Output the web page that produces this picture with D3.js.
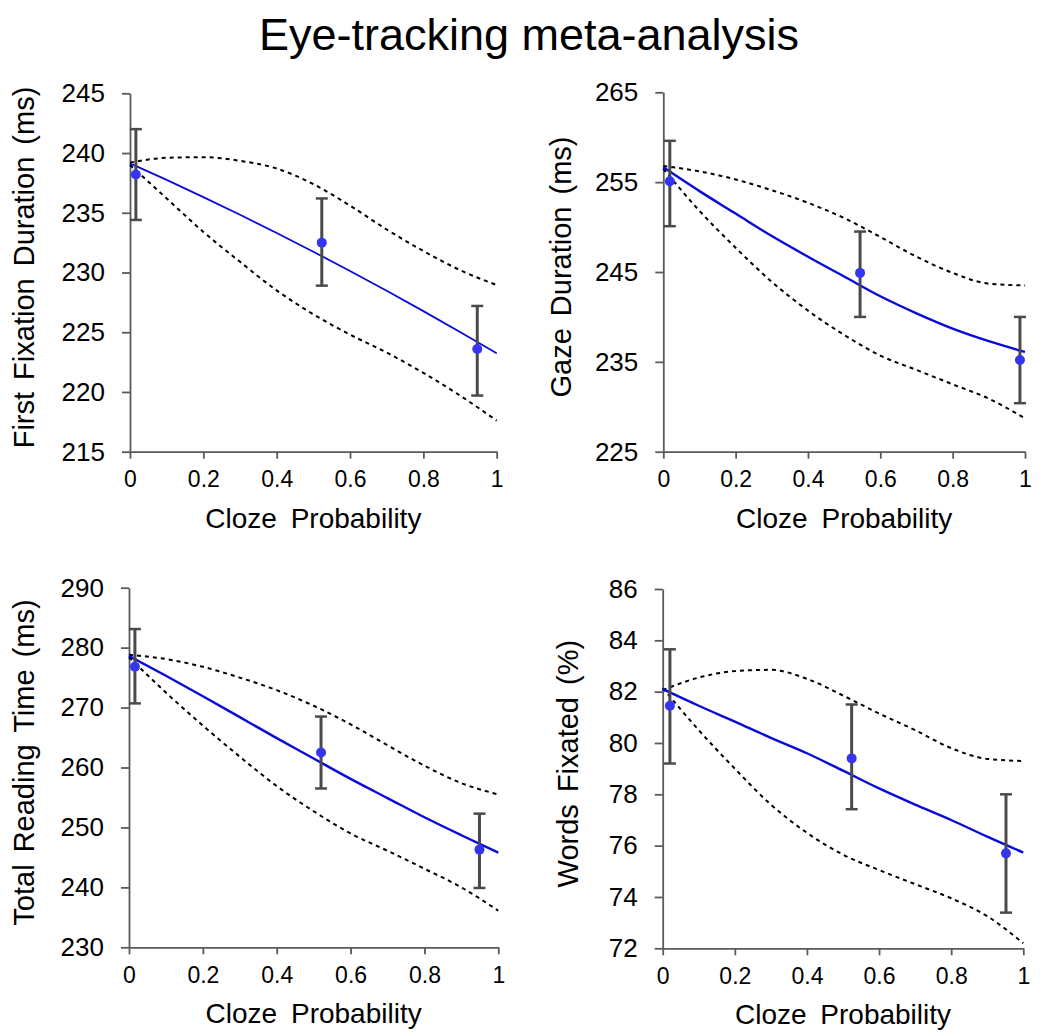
<!DOCTYPE html>
<html>
<head>
<meta charset="utf-8">
<script src="https://cdn.jsdelivr.net/npm/d3@7"></script>
<style>
  html, body { margin: 0; padding: 0; background: #fff; }
  svg { display: block; font-family: Arial, "Liberation Sans", sans-serif; }
</style>
</head>
<body>
<svg id="chart" width="1050" height="1036"></svg>
<script>
// ---------------- DATA ----------------
const chartTitle = "Eye-tracking meta-analysis";
const xAxisTitle = "Cloze Probability";
const yAxisTitles = ["First Fixation Duration (ms)", "Gaze Duration (ms)", "Total Reading Time (ms)", "Words Fixated (%)"];
const xTicks = [0, 0.2, 0.4, 0.6, 0.8, 1];
const yTicks = [
  [215, 220, 225, 230, 235, 240, 245],
  [225, 235, 245, 255, 265],
  [230, 240, 250, 260, 270, 280, 290],
  [72, 74, 76, 78, 80, 82, 84, 86]
];
// observed means with error bars
const pointCloze = [
  [0.016, 0.523, 0.947],
  [0.018, 0.544, 0.986],
  [0.016, 0.520, 0.949],
  [0.020, 0.524, 0.952]
];
const pointMean = [
  [238.2, 232.5, 223.6],
  [255.1, 244.9, 235.2],
  [276.8, 262.5, 246.3],
  [81.45, 79.4, 75.7]
];
const errHigh = [
  [242.0, 236.2, 227.2],
  [259.6, 249.5, 240.0],
  [283.1, 268.5, 252.3],
  [83.65, 81.5, 78.0]
];
const errLow = [
  [234.4, 228.9, 219.7],
  [250.1, 240.0, 230.4],
  [270.7, 256.5, 239.9],
  [79.2, 77.42, 73.39]
];
// fitted model curve and its interval, sampled along cloze probability
const curveCloze = [0, 0.1, 0.2, 0.3, 0.4, 0.5, 0.6, 0.7, 0.8, 0.9, 1];
const fitCurve = [
  [239.14, 237.75, 236.31, 234.83, 233.31, 231.74, 230.12, 228.47, 226.77, 225.02, 223.23],
  [256.65, 254.0, 251.5, 249.0, 246.7, 244.5, 242.3, 240.4, 238.7, 237.3, 236.1],
  [278.6, 275.3, 271.9, 268.4, 264.9, 261.5, 258.1, 254.9, 251.7, 248.7, 245.8],
  [82.1, 81.45, 80.83, 80.2, 79.6, 78.92, 78.23, 77.6, 77.0, 76.35, 75.73]
];
const upperCurve = [
  [239.2, 239.6, 239.65, 239.35, 238.7, 237.4, 235.6, 233.6, 231.8, 230.2, 228.95],
  [256.8, 256.2, 255.3, 254.1, 252.7, 251.0, 248.9, 246.7, 244.9, 243.7, 243.5],
  [278.8, 278.1, 276.8, 275.0, 272.9, 270.3, 267.2, 263.7, 260.3, 257.4, 255.5],
  [82.06, 82.55, 82.8, 82.85, 82.5, 81.85, 81.15, 80.5, 79.8, 79.38, 79.3]
];
const lowerCurve = [
  [239.0, 236.2, 233.4, 230.9, 228.5, 226.5, 224.8, 223.3, 221.6, 219.7, 217.6],
  [256.5, 251.8, 247.7, 243.9, 240.7, 238.0, 235.7, 234.1, 232.5, 230.9, 228.7],
  [278.4, 272.5, 267.0, 261.8, 256.9, 252.7, 249.0, 246.1, 243.1, 240.0, 236.1],
  [82.14, 80.5, 79.0, 77.6, 76.5, 75.65, 75.05, 74.5, 73.95, 73.25, 72.2]
];

// ---------------- LAYOUT ----------------
const panels = [
  { x0: 130,   x1: 496.7,  yTop: 93.3,  yBot: 451.7, titleX: 24 },
  { x0: 663.3, x1: 1025,   yTop: 92.3,  yBot: 451.7, titleX: 561 },
  { x0: 129,   x1: 498.3,  yTop: 587.7, yBot: 947.3, titleX: 24 },
  { x0: 662.7, x1: 1023.3, yTop: 589,   yBot: 948.3, titleX: 568 }
];

const svg = d3.select("#chart");
const axisColor = "#5a5a5a";

svg.append("text")
  .attr("x", 529).attr("y", 50)
  .attr("text-anchor", "middle")
  .attr("font-size", 45)
  .attr("fill", "#000")
  .text(chartTitle);

panels.forEach((p, i) => {
  const yExt = d3.extent(yTicks[i]);
  const x = d3.scaleLinear().domain([0, 1]).range([p.x0, p.x1]);
  const y = d3.scaleLinear().domain(yExt).range([p.yBot, p.yTop]);
  const g = svg.append("g");

  // y axis
  const ya = g.append("g")
    .attr("transform", `translate(${p.x0},0)`)
    .call(d3.axisLeft(y).tickValues(yTicks[i]).tickSize(8).tickSizeOuter(0).tickPadding(17).tickFormat(d3.format("")));
  // x axis
  const xa = g.append("g")
    .attr("transform", `translate(0,${p.yBot})`)
    .call(d3.axisBottom(x).tickValues(xTicks).tickSize(7).tickSizeOuter(0).tickPadding(12).tickFormat(d => String(d)));
  [ya, xa].forEach(a => {
    a.select(".domain").attr("stroke", axisColor).attr("stroke-width", 1.8);
    a.selectAll(".tick line").attr("stroke", axisColor).attr("stroke-width", 1.8);
    a.selectAll(".tick text").attr("fill", "#000")
      .attr("font-family", "Arial, 'Liberation Sans', sans-serif");
  });
  ya.selectAll(".tick text").attr("font-size", 26);
  xa.selectAll(".tick text").attr("font-size", 23);

  // axis titles
  g.append("text")
    .attr("transform", `translate(${p.titleX + 10},${(p.yTop + p.yBot) / 2 - 5}) rotate(-90)`)
    .attr("text-anchor", "middle")
    .attr("font-size", 29)
    .attr("word-spacing", 4)
    .attr("fill", "#000")
    .text(yAxisTitles[i]);
  g.append("text")
    .attr("x", (p.x0 + p.x1) / 2).attr("y", p.yBot + 76)
    .attr("text-anchor", "middle")
    .attr("font-size", 28)
    .attr("word-spacing", 6)
    .attr("fill", "#000")
    .text(xAxisTitle);

  const line = d3.line()
    .x((d, k) => x(curveCloze[k]))
    .y(d => y(d))
    .curve(d3.curveMonotoneX);

  // interval curves (dotted)
  [upperCurve[i], lowerCurve[i]].forEach(c => {
    g.append("path")
      .attr("d", line(c))
      .attr("fill", "none")
      .attr("stroke", "#000")
      .attr("stroke-width", 2)
      .attr("stroke-dasharray", "4,4");
  });

  // fit line
  g.append("path")
    .attr("d", line(fitCurve[i]))
    .attr("fill", "none")
    .attr("stroke", "#0a0ad8")
    .attr("stroke-width", i === 0 ? 1.8 : 2.4);

  // error bars
  const eb = g.selectAll(".eb").data(pointCloze[i]).enter().append("g");
  eb.append("line")
    .attr("x1", d => x(d)).attr("x2", d => x(d))
    .attr("y1", (d, k) => y(errHigh[i][k])).attr("y2", (d, k) => y(errLow[i][k]))
    .attr("stroke", "#4a4a4a").attr("stroke-width", 3);
  ["high", "low"].forEach(which => {
    eb.append("line")
      .attr("x1", d => x(d) - 6).attr("x2", d => x(d) + 6)
      .attr("y1", (d, k) => y(which === "high" ? errHigh[i][k] : errLow[i][k]))
      .attr("y2", (d, k) => y(which === "high" ? errHigh[i][k] : errLow[i][k]))
      .attr("stroke", "#4a4a4a").attr("stroke-width", 2.5);
  });

  // points
  g.selectAll(".pt").data(pointCloze[i]).enter().append("circle")
    .attr("cx", d => x(d))
    .attr("cy", (d, k) => y(pointMean[i][k]))
    .attr("r", 5)
    .attr("fill", "#3535f0");
});
</script>
</body>
</html>
